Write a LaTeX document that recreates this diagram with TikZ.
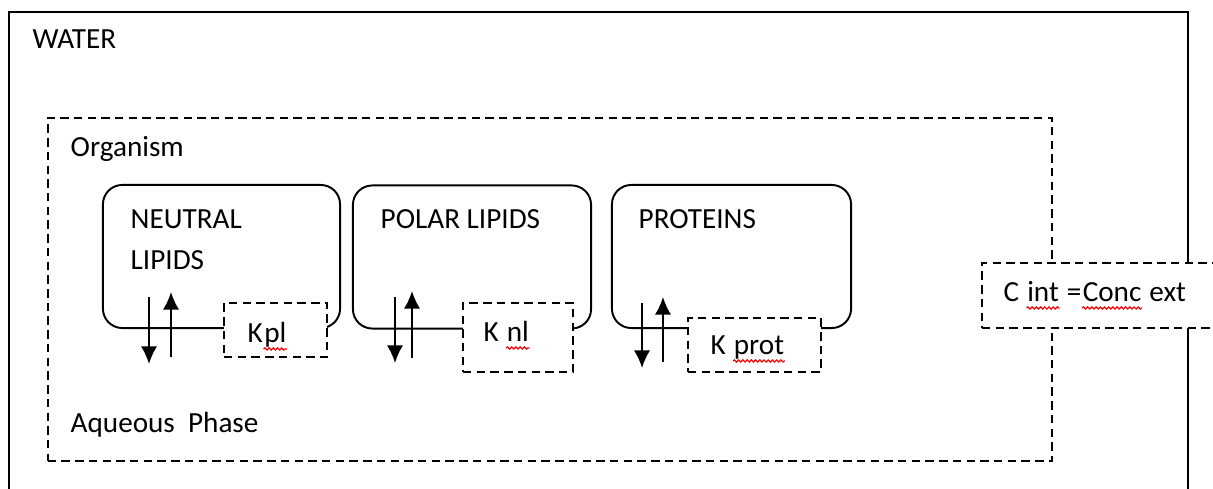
\documentclass[tikz,border=0pt]{standalone}
\usepackage{fontspec}
\setmainfont{Carlito}
\usetikzlibrary{arrows.meta,positioning,decorations.pathmorphing}

\begin{document}
\begin{tikzpicture}[x=0.01cm,y=-0.01cm]
    \fontsize{8.3pt}{10pt}\selectfont
    \tikzstyle{pool} = [draw, rounded corners=5.5pt, line width=0.55pt,
    minimum width=2.37cm, minimum height=1.43cm, inner sep=0pt]
    \tikzstyle{dashbox} = [draw, line width=0.65pt, dash pattern=on 2.4pt off 1.5pt,
    fill=white, inner sep=0pt]
    \tikzstyle{txt} = [anchor=base west, inner sep=0pt]
    \tikzstyle{flux} = [-{Latex[length=5pt,width=4.6pt]}, line width=0.55pt]
    \tikzstyle{spell} = [red, line width=0.35pt, decorate,
    decoration={snake, amplitude=0.3pt, segment length=1.2pt}]

    \useasboundingbox (0,0) rectangle (1213,489);

    % water
    \draw[line width=0.6pt] (9,489) -- (9,12) -- (1188,12) -- (1188,489);

    \draw
    (550,289.5) node [dashbox, minimum width=10.04cm, minimum height=3.43cm] (org) {}
    (1111,295.5) node [dashbox, minimum width=2.58cm, minimum height=0.65cm] (cbox) {}

    (221.5,256.5) node [pool] (neutral) {}
    (472,257) node [pool, minimum width=2.38cm] (polar) {}
    (731.5,256.5) node [pool, minimum width=2.39cm] (prot) {}

    (275.5,330) node [dashbox, minimum width=1.03cm, minimum height=0.54cm] (kpl) {}
    (518,337.5) node [dashbox, minimum width=1.10cm, minimum height=0.69cm] (knl) {}
    (754.5,345) node [dashbox, minimum width=1.33cm, minimum height=0.54cm] (kprot) {}
    ;

    % exchange arrows
    \coordinate (d1a) at (149,297);
    \coordinate (d1b) at (149,364);
    \coordinate (u1a) at (171,357);
    \coordinate (u1b) at (171,292);
    \coordinate (d2a) at (395,297);
    \coordinate (d2b) at (395,363);
    \coordinate (u2a) at (412,358);
    \coordinate (u2b) at (412,291);
    \coordinate (d3a) at (642,303);
    \coordinate (d3b) at (642,368);
    \coordinate (u3a) at (663,362);
    \coordinate (u3b) at (663,297);
    \draw[flux] (d1a) -- (d1b);
    \draw[flux] (u1a) -- (u1b);
    \draw[flux] (d2a) -- (d2b);
    \draw[flux] (u2a) -- (u2b);
    \draw[flux] (d3a) -- (d3b);
    \draw[flux] (u3a) -- (u3b);

    \draw
    (32,49) node [txt] (water) {WATER}
    (70,157) node [txt] (organism) {Organism}
    (70,433) node [txt] (aqueous) {Aqueous\ \ Phase}
    (130,229) node [txt] (neutral1) {NEUTRAL}
    (130,270) node [txt] (neutral2) {LIPIDS}
    (380,229) node [txt] (polar1) {POLAR LIPIDS}
    (638,229) node [txt] (prot1) {PROTEINS}
    (247,343) node [txt] (kpl1) {K}
    (483,342) node [txt] (knl1) {K\ \mbox{}}
    (710,355) node [txt] (kprot1) {K\ \mbox{}}
    (1003,302) node [txt] (cint1) {C\ \mbox{}}
    ;
    \node [txt] (kpl2) at (kpl1.base east) {pl};
    \node [txt] (knl2) at (knl1.base east) {nl};
    \node [txt] (kprot2) at (kprot1.base east) {prot};
    \node [txt] (cint2) at (cint1.base east) {int};
    \node [txt] (cint3) at (cint2.base east) {\ =};
    \node [txt] (cint4) at (cint3.base east) {Conc};
    \node [txt] (cint5) at (cint4.base east) {\ ext};

    % spelling marks
    \foreach \w in {kpl2,knl2,kprot2,cint2,cint4}
      \draw[spell] ([yshift=-1.7pt]\w.base west) -- ([yshift=-1.7pt]\w.base east);

\end{tikzpicture}
\end{document}
